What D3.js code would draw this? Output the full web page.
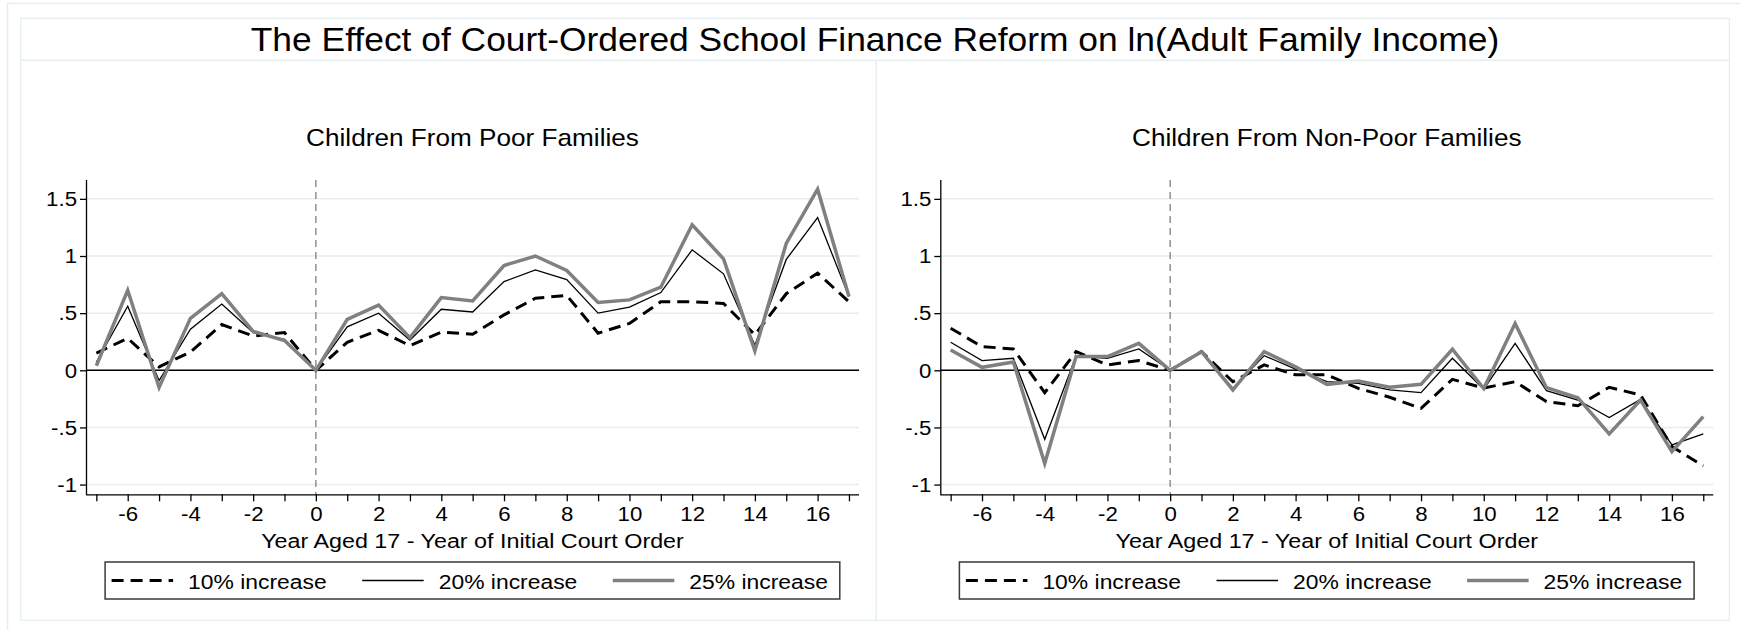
<!DOCTYPE html>
<html>
<head>
<meta charset="utf-8">
<script src="https://cdn.jsdelivr.net/npm/d3@7"></script>
<style>
  body { margin: 0; background: #fff; }
  svg { display: block; font-family: "Liberation Sans", Arial, sans-serif; }
</style>
</head>
<body>
<div id="chart"></div>
<script>
// values, one entry per year relative to the court order
const years = [-7, -6, -5, -4, -3, -2, -1, 0, 1, 2, 3, 4, 5, 6, 7, 8, 9, 10, 11, 12, 13, 14, 15, 16, 17];

const poor10 = [0.15, 0.28, 0.03, 0.16, 0.40, 0.30, 0.33, 0, 0.245, 0.35, 0.215, 0.335, 0.315, 0.485, 0.63, 0.655, 0.325, 0.41, 0.60, 0.60, 0.585, 0.31, 0.67, 0.85, 0.60];
const poor20 = [0.07, 0.56, -0.09, 0.36, 0.58, 0.33, 0.27, 0, 0.38, 0.50, 0.265, 0.534, 0.51, 0.776, 0.879, 0.794, 0.50, 0.552, 0.68, 1.054, 0.844, 0.22, 0.97, 1.337, 0.645];
const poor25 = [0.04, 0.70, -0.15, 0.455, 0.67, 0.34, 0.26, 0, 0.445, 0.57, 0.286, 0.636, 0.607, 0.917, 1.00, 0.873, 0.593, 0.616, 0.727, 1.273, 0.975, 0.17, 1.11, 1.585, 0.645];

const nonpoor10 = [0.368, 0.207, 0.187, -0.196, 0.163, 0.047, 0.085, 0, 0.163, -0.10, 0.047, -0.04, -0.04, -0.158, -0.236, -0.333, -0.079, -0.155, -0.10, -0.274, -0.31, -0.149, -0.216, -0.668, -0.837];
const nonpoor20 = [0.245, 0.085, 0.105, -0.604, 0.125, 0.105, 0.187, 0, 0.163, -0.158, 0.128, 0.01, -0.10, -0.114, -0.172, -0.196, 0.105, -0.165, 0.236, -0.178, -0.26, -0.414, -0.254, -0.653, -0.557];
const nonpoor25 = [0.178, 0.026, 0.073, -0.814, 0.12, 0.12, 0.236, 0, 0.163, -0.172, 0.163, 0.03, -0.123, -0.093, -0.149, -0.123, 0.184, -0.16, 0.41, -0.152, -0.24, -0.557, -0.26, -0.712, -0.405];

const seriesNames = ["10% increase", "20% increase", "25% increase"];
const yTicks = [-1, -0.5, 0, 0.5, 1, 1.5];
const yTickLabels = ["-1", "-.5", "0", ".5", "1", "1.5"];

const title = "The Effect of Court-Ordered School Finance Reform on ln(Adult Family Income)";
const panelTitles = ["Children From Poor Families", "Children From Non-Poor Families"];
const xTitle = "Year Aged 17 - Year of Initial Court Order";

const styles = [
  {stroke: "#000", width: 3, dash: "12,7"},
  {stroke: "#000", width: 1.3, dash: null},
  {stroke: "#808080", width: 3.5, dash: null}
];
const frame = "#e6eef0";

const width = 1740, height = 630;

const svg = d3.select("#chart")
  .append("svg")
    .attr("width", width)
    .attr("height", height);

svg.append("rect").attr("width", width).attr("height", height).attr("fill", "#fff");

// text in the original is a little wider than Liberation Sans, so stretch it sideways
function label(x, y, str, size, sx, anchor)
{
  return svg.append("text")
    .attr("transform", `translate(${x},${y}) scale(${sx},1)`)
    .attr("text-anchor", anchor || "middle")
    .attr("font-size", size + "px")
    .attr("fill", "#000")
    .text(str);
}

// outer frames
svg.append("rect")
  .attr("x", 7.5).attr("y", 3.5).attr("width", 1800).attr("height", 700)
  .attr("fill", "none").attr("stroke", frame).attr("stroke-width", 1.5);
svg.append("rect")
  .attr("x", 20.7).attr("y", 18.3).attr("width", 1708.6).attr("height", 42)
  .attr("fill", "none").attr("stroke", frame).attr("stroke-width", 1.2);

label(875, 50.5, title, 33.5, 1.057);

const panels = [
  {left: 20.7, right: 876.3, plotX: 86, data: [poor10, poor20, poor25], name: panelTitles[0]},
  {left: 876.3, right: 1729.3, plotX: 940.3, data: [nonpoor10, nonpoor20, nonpoor25], name: panelTitles[1]}
];

const plotW = 773;
const plotTop = 180, plotBottom = 494.3;

panels.forEach(p => drawPanel(p));

function drawPanel(p)
{
  svg.append("rect")
    .attr("x", p.left).attr("y", 60.3)
    .attr("width", p.right - p.left).attr("height", 560)
    .attr("fill", "none").attr("stroke", frame).attr("stroke-width", 1.2);

  const x = d3.scaleLinear()
      .domain([-7.33, 17.32])
      .range([p.plotX, p.plotX + plotW]);

  const y = d3.scaleLinear()
      .domain([-1.085, 1.665])
      .range([plotBottom, plotTop]);

  const cx = p.plotX + plotW / 2;

  label(cx, 145.5, p.name, 24, 1.09);

  // gridlines
  svg.append("g")
    .selectAll("line")
    .data(yTicks)
    .join("line")
      .attr("x1", p.plotX)
      .attr("x2", p.plotX + plotW)
      .attr("y1", d => y(d))
      .attr("y2", d => y(d))
      .attr("stroke", frame)
      .attr("stroke-width", 1.5);

  // zero line and event line
  svg.append("line")
    .attr("x1", p.plotX).attr("x2", p.plotX + plotW)
    .attr("y1", y(0)).attr("y2", y(0))
    .attr("stroke", "#000").attr("stroke-width", 1.5);

  svg.append("line")
    .attr("x1", x(0)).attr("x2", x(0))
    .attr("y1", plotTop).attr("y2", plotBottom)
    .attr("stroke", "#808080").attr("stroke-width", 1.3)
    .attr("stroke-dasharray", "7,5");

  // series
  const line = d3.line()
      .x((d, i) => x(years[i]))
      .y(d => y(d));

  p.data.forEach((s, k) => {
    svg.append("path")
      .datum(s)
      .attr("d", line)
      .attr("fill", "none")
      .attr("stroke", styles[k].stroke)
      .attr("stroke-width", styles[k].width)
      .attr("stroke-dasharray", styles[k].dash);
  });

  // axes
  const xAxis = svg.append("g")
      .attr("transform", `translate(0,${plotBottom})`)
      .call(d3.axisBottom(x)
        .tickValues(years)
        .tickSize(7)
        .tickPadding(3)
        .tickFormat(d => d % 2 === 0 ? d : ""));
  xAxis.select(".domain").attr("d", `M${p.plotX},0.5H${p.plotX + plotW}`);

  const yAxis = svg.append("g")
      .attr("transform", `translate(${p.plotX},0)`)
      .call(d3.axisLeft(y)
        .tickValues(yTicks)
        .tickSize(6)
        .tickPadding(3)
        .tickFormat((d, i) => yTickLabels[i]));
  yAxis.select(".domain").attr("d", `M0.5,${plotTop}V${plotBottom + 0.5}`);

  svg.selectAll(".tick text").attr("font-size", "21px").attr("font-family", "Liberation Sans, Arial, sans-serif").attr("fill", "#000");
  xAxis.selectAll(".tick text").attr("dy", "0.71em").attr("y", 12).attr("transform", "scale(1.06,1)");
  yAxis.selectAll(".tick text").attr("x", -9 / 1.06).attr("transform", "scale(1.06,1)");
  svg.selectAll(".domain, .tick line").attr("stroke", "#000").attr("stroke-width", 1.3);

  label(cx, 548, xTitle, 21, 1.11);

  // legend
  const legX = cx - 367.4;
  svg.append("rect")
    .attr("x", legX).attr("y", 562)
    .attr("width", 734.7).attr("height", 37)
    .attr("fill", "#fff").attr("stroke", "#3a3a3a").attr("stroke-width", 1.5);

  seriesNames.forEach((name, k) => {
    const ix = legX + 6.5 + k * 250.6;
    svg.append("line")
      .attr("x1", ix).attr("x2", ix + 61.5)
      .attr("y1", 580.5).attr("y2", 580.5)
      .attr("stroke", styles[k].stroke)
      .attr("stroke-width", styles[k].width)
      .attr("stroke-dasharray", styles[k].dash);
    label(ix + 76.5, 588.5, name, 21, 1.09, "start");
  });
}
</script>
</body>
</html>
